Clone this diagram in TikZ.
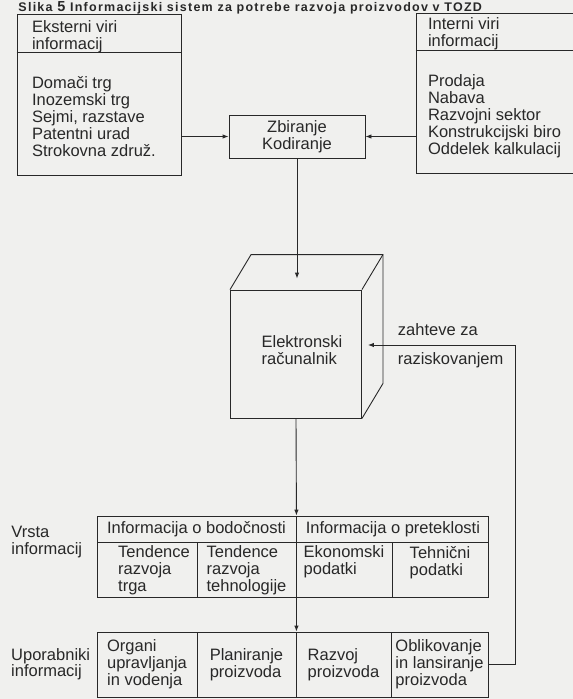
\documentclass[tikz,border=0pt]{standalone}
\usepackage{fontspec}
\setmainfont{Liberation Sans}
\usetikzlibrary{positioning,calc,arrows.meta}
\definecolor{paper}{RGB}{240,240,238}
\definecolor{ink}{RGB}{40,40,40}

\begin{document}
\begin{tikzpicture}[x=1pt, y=-1pt, line width=0.9pt, color=ink,
    every node/.style={font=\fontsize{16.5}{17}\selectfont},
    box/.style={draw, inner sep=0pt},
    cell/.style={draw, inner sep=0pt, align=left},
    txt/.style={inner sep=0pt, align=left},
    arr/.style={-{Latex[length=6pt,width=4.5pt]}}]
  \useasboundingbox[fill=paper] (0,0) rectangle (573,699);

  \node[anchor=base west, inner sep=0pt, font=\bfseries\fontsize{12.5}{13}\selectfont\addfontfeature{LetterSpace=10}] (title) at (18,11.5)
    {Slika {\fontsize{14.5}{15}\selectfont 5} Informacijski sistem za potrebe razvoja proizvodov v TOZD};

  % viri informacij
  \node[box, minimum width=164, minimum height=161] (eks) at (99,94.5) {};
  \draw ($(eks.north west)+(0,39)$) -- ($(eks.north east)+(0,39)$);
  \node[txt, anchor=north west] (eksh) at ($(eks.north west)+(15,7)$) {Eksterni viri\\informacij};
  \node[txt, anchor=north west] (eksb) at ($(eks.north west)+(15,62)$)
    {Domači trg\\Inozemski trg\\Sejmi, razstave\\Patentni urad\\Strokovna združ.};

  \node[box, minimum width=162, minimum height=160] (int) at (497,93) {};
  \draw ($(int.north west)+(0,38)$) -- ($(int.north east)+(0,38)$);
  \node[txt, anchor=north west] (inth) at ($(int.north west)+(12,5)$) {Interni viri\\informacij};
  \node[txt, anchor=north west] (intb) at ($(int.north west)+(12,62)$)
    {Prodaja\\Nabava\\Razvojni sektor\\Konstrukcijski biro\\Oddelek kalkulacij};

  \node[box, minimum width=136, minimum height=43, align=center] (zbir) at (297,136.5) {Zbiranje\\Kodiranje};

  % racunalnik
  \node[box, minimum width=131, minimum height=128] (rac) at (296,354) {};
  \node[txt] (racl) at ($(rac.center)+(6,-4)$) {Elektronski\\računalnik};
  \draw (rac.north west) -- ++(21,-35) -| ($(rac.south east)+(21,-35)$) -- (rac.south east);
  \draw (rac.north east) -- ++(21,-35);
  \coordinate (racTop) at ($(rac.north)+(0,-11)$);
  \coordinate (fb) at ($(rac.east)+(6,-9)$);

  % vrsta informacij
  \node[cell, minimum width=199, minimum height=26, align=center] (h1) at (196.5,529) {Informacija o bodočnosti};
  \node[cell, minimum width=192, minimum height=26, align=center, anchor=west] (h2) at (h1.east) {Informacija o preteklosti};
  \foreach \i/\cx/\w in {1/147/100, 2/246.5/99, 3/344/96, 4/440/96}
    \node[cell, minimum width=\w, minimum height=55] (c\i) at (\cx,569.5) {};
  \foreach \i/\dx/\t in {1/7/{Tendence\\razvoja\\trga}, 2/0/{Tendence\\razvoja\\tehnologije},
                         3/0/{Ekonomski\\podatki}, 4/0/{Tehnični\\podatki}}
    \node[txt, below=4pt of c\i.north, xshift=\dx] (ct\i) {\t};
  \node[txt, left=14pt of h1.south west] (vrsta) {Vrsta\\informacij};

  % uporabniki
  \foreach \i/\cx/\w/\t in {1/147/100/{Organi\\upravljanja\\in vodenja}, 2/246.5/99/{Planiranje\\proizvoda},
                            3/343.5/95/{Razvoj\\proizvoda}, 4/439.5/97/{Oblikovanje\\in lansiranje\\proizvoda}}
    \node[cell, minimum width=\w, minimum height=65] (u\i) at (\cx,664.5) {\t};
  \node[txt, left=6pt of u1.west, font=\fontsize{16.5}{13}\selectfont] (upor) {Uporabniki\\informacij};

  \draw[arr] (eks.east |- zbir) -- (zbir.west);
  \draw[arr] (int.west |- zbir) -- (zbir.east);
  \draw[arr] (zbir.south) -- (zbir.south |- racTop);
  \draw[arr] (rac.south) -- (h1.north east);
  \draw[arr] (c2.south east) -- (u2.north east);
  \draw[arr] (u4.east) -- ++(27,0) |- (fb);
  \node[txt, anchor=base west] (zah) at ($(fb)+(29.5,-10)$) {zahteve za};
  \node[txt, anchor=base west] (raz) at ($(fb)+(29.5,19)$) {raziskovanjem};
\end{tikzpicture}
\end{document}
